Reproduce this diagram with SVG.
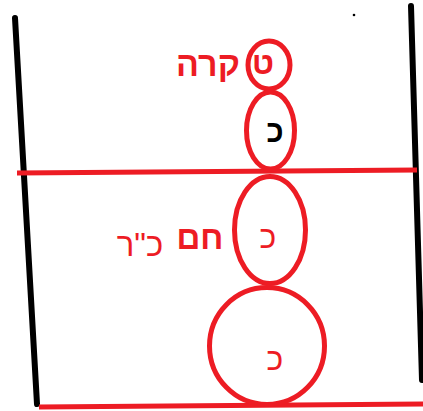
<svg xmlns="http://www.w3.org/2000/svg" width="423" height="411" viewBox="0 0 423 411">
<style>
.wall{stroke:#000;stroke-width:6;stroke-linecap:round;fill:none}
.red{stroke:#ed1c24;stroke-width:5;fill:none}
.lbl{font-family:"Liberation Sans",Arial,sans-serif;fill:#ed1c24;text-anchor:middle}
.b{font-weight:bold}
</style>
<rect width="423" height="411" fill="#fff"/>
<g id="walls">
<line class="wall" x1="15" y1="18" x2="37" y2="404"/>
<line class="wall" x1="411" y1="6" x2="422" y2="380"/>
<circle cx="354" cy="15" r="1.3" fill="#000"/>
</g>
<g id="levels">
<line class="red" x1="17" y1="173" x2="417" y2="170"/>
<line class="red" x1="39" y1="407" x2="423" y2="404"/>
</g>
<g id="node-top">
<ellipse class="red" cx="269" cy="65" rx="21" ry="24"/>
<text class="lbl b" x="263" y="74" font-size="32">ט</text>
</g>
<g id="node-2">
<ellipse class="red" cx="270.5" cy="130.5" rx="24" ry="38.5"/>
<text class="lbl b" x="275" y="142" font-size="31" style="fill:#000">כ</text>
</g>
<g id="node-3">
<ellipse class="red" cx="270" cy="230" rx="35.5" ry="53.5"/>
<text class="lbl" x="268" y="248" font-size="32">כ</text>
</g>
<g id="node-4">
<ellipse class="red" cx="267" cy="346" rx="57.5" ry="58.5"/>
<text class="lbl" x="275" y="370" font-size="32">כ</text>
</g>
<g id="labels">
<text class="lbl b" x="208" y="76" font-size="34">קרה</text>
<text class="lbl b" x="200" y="249" font-size="33">חם</text>
<text class="lbl" x="140" y="256" font-size="33">כ"ר</text>
</g>
</svg>
